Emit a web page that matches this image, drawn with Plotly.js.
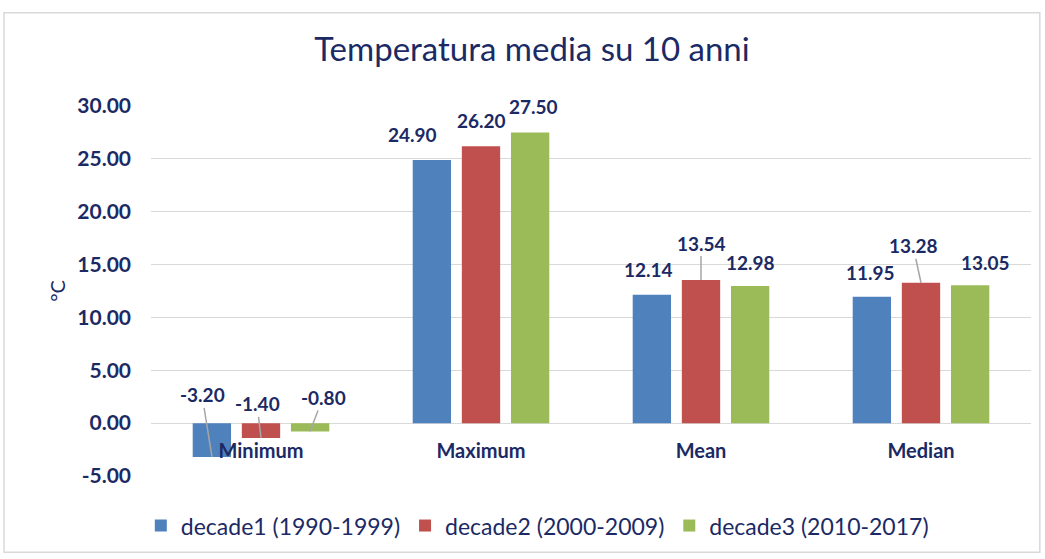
<!DOCTYPE html>
<html><head><meta charset="utf-8">
<script src="https://cdn.plot.ly/plotly-3.0.1.min.js"></script>
<style>html,body{margin:0;padding:0;background:#fff}#chart{width:1045px;height:559px}</style>
</head><body><div id="chart"></div>
<script>
const categories = ["Minimum", "Maximum", "Mean", "Median"];
const seriesNames = ["decade1 (1990-1999)", "decade2 (2000-2009)", "decade3 (2010-2017)"];
const decade1 = [-3.20, 24.90, 12.14, 11.95];
const decade2 = [-1.40, 26.20, 13.54, 13.28];
const decade3 = [-0.80, 27.50, 12.98, 13.05];
const yTicks = [-5, 0, 5, 10, 15, 20, 25, 30];

const seriesValues = [decade1, decade2, decade3];
const colors = ["#4f81bd", "#c0504d", "#9bbb59"];
const navy = "#1b2a64";
const FONT = "Lato, 'Open Sans', sans-serif";

const traces = seriesValues.map((vals, i) => ({
  type: "bar", name: seriesNames[i], x: categories, y: vals,
  marker: {color: colors[i]}, hoverinfo: "skip"
}));

// label placement (pixel offsets from bar top, Excel-like manual placement)
const slotPx = 49;
const offsets = [
  [[-10,-62,true],[-4,-34,true],[13,-34,true]],
  [[-20,-25,false],[0,-26,false],[3,-26,false]],
  [[-4,-25,false],[0,-37,true],[0,-23,false]],
  [[-2,-24,false],[-8,-37,true],[15,-23,false]]
];
const annotations = [];
seriesValues.forEach((vals, i) => {
  vals.forEach((v, j) => {
    const [ax, ay, line] = offsets[j][i];
    annotations.push({
      x: categories[j], y: v, xref: "x", yref: "y", xshift: (i - 1) * slotPx,
      text: v.toFixed(2), showarrow: true, ax: ax, ay: ay,
      arrowhead: 0, arrowwidth: 1.5, arrowcolor: line ? "#a6a6a6" : "rgba(0,0,0,0)",
      standoff: 0, startstandoff: 0,
      font: {family: FONT, size: 19, color: navy, weight: 700}
    });
  });
});

const layout = {
  width: 1045, height: 559,
  margin: {l: 151, r: 14, t: 106, b: 80},
  paper_bgcolor: "#fff", plot_bgcolor: "#fff",
  font: {family: FONT, color: navy},
  title: {text: "Temperatura media su 10 anni", x: 0.509, xref: "container", xanchor: "center",
          y: 0.911, yref: "container", yanchor: "middle",
          font: {family: FONT, size: 33, color: navy}},
  barmode: "group", bargap: 0.33, bargroupgap: 0.22,
  showlegend: true,
  legend: {orientation: "h", x: 0.439, xanchor: "center", y: -0.134, yanchor: "middle",
           font: {family: FONT, size: 23, color: navy}, itemwidth: 30, traceorder: "normal"},
  xaxis: {anchor: "free", position: 0.105, showline: false, showgrid: false, zeroline: false,
          ticks: "", tickfont: {family: FONT, size: 20, color: navy, weight: 700}},
  yaxis: {range: [-5, 30], tickvals: yTicks, ticktext: yTicks.map(v => v.toFixed(2)),
          showgrid: true, gridcolor: "#d9d9d9", gridwidth: 1, zeroline: true, zerolinecolor: "#d9d9d9",
          zerolinewidth: 1, showline: false, ticks: "", ticklabelstandoff: 19,
          tickfont: {family: FONT, size: 21, color: navy, weight: 700},
          title: {text: "°C", standoff: 6, font: {family: FONT, size: 20, color: navy}}},
  annotations: annotations,
  shapes: [{type: "rect", xref: "paper", yref: "paper", x0: -0.167, x1: 1.010, y0: -0.206, y1: 1.252,
            line: {color: "#d9d9d9", width: 1.5}, fillcolor: "rgba(0,0,0,0)", layer: "below"}]
};

Plotly.newPlot("chart", traces, layout, {displayModeBar: false, staticPlot: true});
</script></body></html>
